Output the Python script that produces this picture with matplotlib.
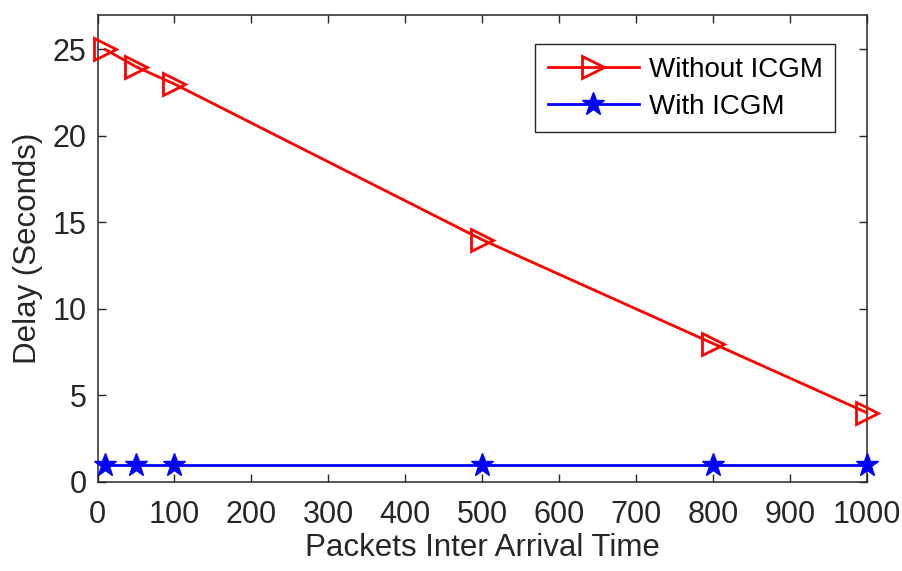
import matplotlib
matplotlib.use("Agg")
import matplotlib.pyplot as plt

plt.rcParams['font.family'] = ['Liberation Sans', 'DejaVu Sans']

x_vals = [10, 50, 100, 500, 800, 1000]
without_icgm = [25, 24, 23, 14, 8, 4]
with_icgm = [1, 1, 1, 1, 1, 1]
x_ticks = [0, 100, 200, 300, 400, 500, 600, 700, 800, 900, 1000]
y_ticks = [0, 5, 10, 15, 20, 25]

txt = '#262626'
fig = plt.figure(figsize=(9.03, 5.71), dpi=100)
ax = fig.add_axes([0.108, 0.156, 0.852, 0.818])

ax.plot(x_vals, without_icgm, color='#FF0000', lw=2.0, marker='>', ms=16,
        mfc='none', mec='#FF0000', mew=2.0, label='Without ICGM', clip_on=False, zorder=3)
ax.plot(x_vals, with_icgm, color='#0000FF', lw=2.0, marker='*', ms=17,
        mfc='#0000FF', mec='#0000FF', mew=1.0, label='With ICGM', clip_on=False, zorder=3)

ax.set_xlim(0, 1000)
ax.set_ylim(0, 27)
ax.set_xticks(x_ticks)
ax.set_yticks(y_ticks)
ax.tick_params(direction='in', length=6, width=1.0, colors=txt, labelsize=22,
               top=True, right=True)
ax.tick_params(axis='x', pad=13)
ax.tick_params(axis='y', pad=8)
for s in ax.spines.values():
    s.set_color(txt)
    s.set_linewidth(1.1)

ax.set_xlabel('Packets Inter Arrival Time', fontsize=22.5, color=txt, labelpad=2)
ax.set_ylabel('Delay (Seconds)', fontsize=22.5, color=txt, labelpad=7)

leg = ax.legend(loc='upper right', bbox_to_anchor=(0.959, 0.937), borderaxespad=0,
                fontsize=20, fancybox=False, framealpha=1, edgecolor=txt,
                handlelength=3.3, labelspacing=0.4, borderpad=0.45, handletextpad=0.35)
leg.get_frame().set_linewidth(1.0)

fig.savefig('out.png', dpi=100)
